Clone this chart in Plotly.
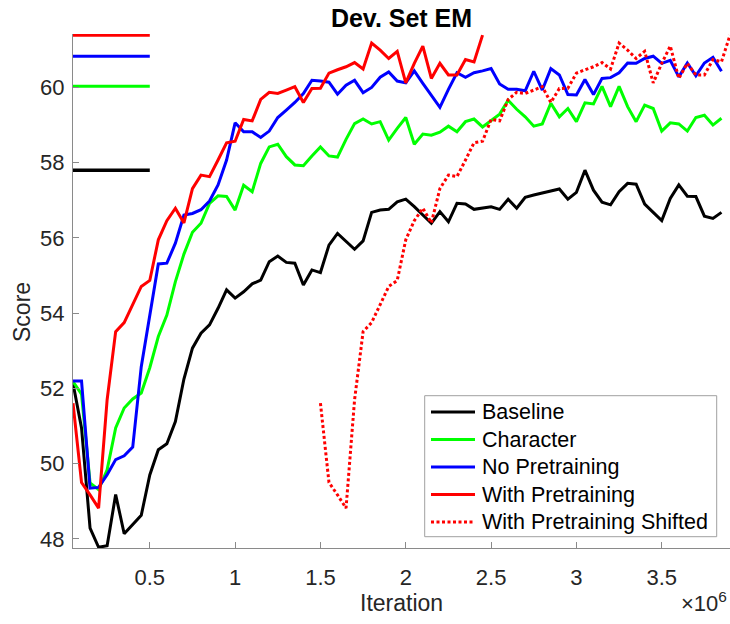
import plotly.graph_objects as go

# ---------------- data ----------------
ITER_STEP = 50000
ITERATIONS = [ITER_STEP * k for k in range(1, 78)]          # 0.05e6 ... 3.85e6
SHIFT = 1450000                                            # shift of the pretrained curve

baseline = [52.14, 50.95, 48.29, 47.78, 47.82, 49.18, 48.14, 48.38, 48.63, 49.70,
            50.37, 50.53, 51.12, 52.25, 53.07, 53.47, 53.69, 54.13, 54.62, 54.40,
            54.57, 54.78, 54.88, 55.37, 55.52, 55.35, 55.33, 54.75, 55.15, 55.08,
            55.81, 56.12, 55.90, 55.70, 55.92, 56.68, 56.74, 56.76, 56.96, 57.03,
            56.83, 56.61, 56.39, 56.70, 56.43, 56.92, 56.90, 56.76, 56.79, 56.83,
            56.76, 57.03, 56.79, 57.08, 57.14, 57.19, 57.23, 57.30, 57.03, 57.21,
            57.80, 57.27, 56.95, 56.88, 57.23, 57.45, 57.43, 56.90, 56.68, 56.46,
            57.05, 57.41, 57.11, 57.10, 56.58, 56.52, 56.68]

character = [52.18, 51.85, 49.49, 49.31, 49.84, 50.95, 51.48, 51.72, 51.88, 52.55,
             53.38, 53.95, 54.84, 55.57, 56.15, 56.39, 56.92, 57.12, 57.10, 56.74,
             57.40, 57.23, 57.98, 58.42, 58.49, 58.16, 57.94, 57.92, 58.18, 58.42,
             58.18, 58.15, 58.62, 59.04, 59.16, 59.03, 59.09, 58.60, 58.91, 59.20,
             58.49, 58.76, 58.73, 58.81, 58.97, 58.82, 59.09, 59.16, 58.95, 59.13,
             59.29, 59.66, 59.42, 59.22, 58.97, 59.03, 59.58, 59.22, 59.44, 59.09,
             59.59, 59.56, 60.03, 59.49, 60.03, 59.49, 59.09, 59.53, 59.44, 58.84,
             59.06, 59.03, 58.84, 59.20, 59.26, 59.00, 59.18]

no_pretraining = [52.20, 52.20, 49.35, 49.37, 49.71, 50.11, 50.21, 50.44, 52.58, 53.98,
                  55.31, 55.33, 55.86, 56.61, 56.65, 56.75, 56.98, 57.41, 58.07, 59.06,
                  58.82, 58.82, 58.67, 58.84, 59.20, 59.40, 59.60, 59.84, 60.19, 60.17,
                  60.14, 59.82, 60.06, 60.19, 59.86, 60.00, 60.27, 60.41, 60.17, 60.12,
                  60.44, 60.11, 59.80, 59.47, 59.95, 60.39, 60.27, 60.39, 60.44, 60.50,
                  60.09, 59.95, 59.95, 59.91, 60.43, 59.93, 60.50, 60.33, 59.81, 59.80,
                  60.21, 59.81, 60.24, 60.26, 60.39, 60.65, 60.64, 60.77, 60.83, 60.64,
                  60.72, 60.28, 60.65, 60.31, 60.65, 60.80, 60.43]

with_pretraining = [51.61, 49.50, 49.17, 48.82, 51.70, 53.51, 53.75, 54.22, 54.71, 54.87,
                    55.95, 56.46, 56.79, 56.40, 57.31, 57.67, 57.63, 58.07, 58.53, 58.57,
                    59.15, 59.11, 59.68, 59.87, 59.84, 59.93, 60.02, 59.60, 59.97, 59.98,
                    60.38, 60.47, 60.55, 60.66, 60.49, 61.18, 60.99, 60.77, 60.96, 60.12,
                    60.64, 61.10, 60.24, 60.64, 60.33, 60.33, 60.74, 60.68, 61.39]

X_TICKS = [500000, 1000000, 1500000, 2000000, 2500000, 3000000, 3500000]
X_TICK_TEXT = ["0.5", "1", "1.5", "2", "2.5", "3", "3.5"]
Y_TICKS = [48, 50, 52, 54, 56, 58, 60]
MAX_LINE_X = [50000, 500000]

# ---------------- figure ----------------
FONT = "Helvetica, Arial, 'Liberation Sans', sans-serif"
AX_COLOR = "#8a8a8a"
TXT = "#262626"
DOT = "3px,2.5px"

W, H = 730, 624
ML, MR, MT, MB = 73, 0, 34, 76
PW, PH = W - ML - MR, H - MT - MB


def px_x(px):
    return (px - ML) / PW


def px_y(py):
    return (H - MB - py) / PH


iters_red = ITERATIONS[:len(with_pretraining)]
iters_shift = [i + SHIFT for i in iters_red]

series = [
    ("Baseline", ITERATIONS, baseline, "#000000", "solid"),
    ("Character", ITERATIONS, character, "#00ff00", "solid"),
    ("No Pretraining", ITERATIONS, no_pretraining, "#0000ff", "solid"),
    ("With Pretraining", iters_red, with_pretraining, "#ff0000", "solid"),
    ("With Pretraining Shifted", iters_shift, with_pretraining, "#ff0000", DOT),
]

fig = go.Figure()
for name, xs, ys, col, dash in series:
    fig.add_trace(go.Scatter(x=xs, y=ys, mode="lines", name=name, showlegend=False,
                             line=dict(color=col, width=3, dash=dash)))

# best-score markers on the left
for name, xs, ys, col, dash in series[:4]:
    m = max(ys)
    fig.add_trace(go.Scatter(x=MAX_LINE_X, y=[m, m], mode="lines", showlegend=False,
                             hoverinfo="skip",
                             line=dict(color=col, width=3.5 if col == "#000000" else 3)))

# legend (box, samples, labels)
LEG_X0, LEG_X1, LEG_Y0, LEG_Y1 = 424.7, 716.7, 395.7, 536.7
ROWS = [412, 439.5, 467, 494.5, 522]
shapes = [dict(type="rect", xref="paper", yref="paper",
               x0=px_x(LEG_X0), x1=px_x(LEG_X1), y0=px_y(LEG_Y1), y1=px_y(LEG_Y0),
               line=dict(color="#a0a0a0", width=1), fillcolor="white", layer="above")]
annotations = []
for (name, xs, ys, col, dash), ry in zip(series, ROWS):
    shapes.append(dict(type="line", xref="paper", yref="paper",
                       x0=px_x(431), x1=px_x(475), y0=px_y(ry), y1=px_y(ry),
                       line=dict(color=col, width=3, dash=dash), layer="above"))
    annotations.append(dict(text=name, xref="paper", yref="paper", x=px_x(480),
                            y=px_y(ry), xanchor="left", yanchor="middle",
                            showarrow=False,
                            font=dict(size=21.5, color="#000000", family=FONT)))

annotations += [
    dict(text="Iteration", xref="paper", yref="paper", x=px_x(401),
         y=px_y(603), xanchor="center", yanchor="middle",
         showarrow=False, font=dict(size=23, color=TXT, family=FONT)),
    dict(text="Score", xref="paper", yref="paper", x=px_x(22),
         y=px_y(312), xanchor="center", yanchor="middle",
         textangle=-90, showarrow=False, font=dict(size=23, color=TXT, family=FONT)),
    dict(text="\u00d710<sup>6</sup>", xref="paper", yref="paper", x=px_x(729),
         y=px_y(586), xanchor="right", yanchor="top",
         showarrow=False, font=dict(size=22, color=TXT, family=FONT)),
]

fig.update_layout(
    width=W, height=H,
    margin=dict(l=ML, r=MR, t=MT, b=MB),
    paper_bgcolor="white", plot_bgcolor="white",
    font=dict(family=FONT, color=TXT, size=22),
    title=dict(text="<b>Dev. Set EM</b>", x=0.5, xref="paper", xanchor="center",
               y=1 - 18 / H, yref="container", yanchor="middle",
               font=dict(size=25, color="#000000", family=FONT)),
    showlegend=False,
    xaxis=dict(range=[50000, 3900000], showgrid=False, zeroline=False,
               showline=True, linecolor=AX_COLOR, linewidth=1, mirror=False,
               ticks="inside", ticklen=6, tickcolor=AX_COLOR, tickwidth=1,
               tickvals=X_TICKS, ticktext=X_TICK_TEXT,
               tickfont=dict(size=22, color=TXT), ticklabelstandoff=10),
    yaxis=dict(range=[47.76, 61.42], showgrid=False, zeroline=False,
               showline=True, linecolor=AX_COLOR, linewidth=1, mirror=False,
               ticks="inside", ticklen=6, tickcolor=AX_COLOR, tickwidth=1,
               tickvals=Y_TICKS, tickfont=dict(size=22, color=TXT),
               ticklabelstandoff=3),
    shapes=shapes,
    annotations=annotations,
)

fig.write_html("out.html", config={"displayModeBar": False},
               post_script="document.body.style.margin='0px';")
